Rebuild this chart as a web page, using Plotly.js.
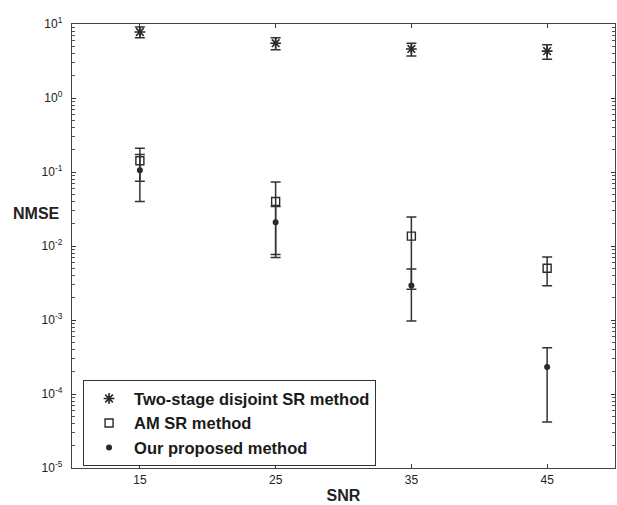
<!DOCTYPE html>
<html>
<head>
<meta charset="utf-8">
<script src="https://cdn.plot.ly/plotly-3.0.1.min.js"></script>
<style>
  html, body { margin: 0; padding: 0; background: #fff; }
  #chart { width: 617px; height: 505px; }
</style>
</head>
<body>
<div id="chart"></div>
<script>
// SNR values (x)
const snr = [15, 25, 35, 45];

// Two-stage disjoint SR method
const twoStage = [7.8, 5.5, 4.6, 4.3];
const twoStageErr = [1.3, 1.0, 0.9, 0.95];

// AM SR method
const amSR = [0.142, 0.040, 0.0136, 0.0050];
const amSRErr = [0.067, 0.033, 0.011, 0.0021];

// Our proposed method
const ours = [0.106, 0.0209, 0.00292, 0.000232];
const oursErr = [0.066, 0.0132, 0.00195, 0.00019];

// Tick labels
const xTickVals = [15, 25, 35, 45];
const yTickVals = [1e-5, 1e-4, 1e-3, 1e-2, 1e-1, 1, 10];
const yTickText = ['10<sup>-5</sup>', '10<sup>-4</sup>', '10<sup>-3</sup>', '10<sup>-2</sup>', '10<sup>-1</sup>', '10<sup>0</sup>', '10<sup>1</sup>'];

const seriesNames = ['Two-stage disjoint SR method', 'AM SR method', 'Our proposed method'];

const ink = '#2a2a2a';
const font = 'Liberation Sans, Arial, sans-serif';

function errTrace(name, y, err, symbol, size, lineW) {
  return {
    x: snr, y: y, name: name, type: 'scatter', mode: 'markers',
    marker: { symbol: symbol, size: size, color: ink, line: { color: ink, width: lineW } },
    error_y: { type: 'data', array: err, visible: true, color: '#333', thickness: 1.5, width: 5 }
  };
}

const data = [
  errTrace(seriesNames[0], twoStage, twoStageErr, 'asterisk-open', 9, 1.6),
  errTrace(seriesNames[1], amSR, amSRErr, 'square-open', 8, 1.4),
  errTrace(seriesNames[2], ours, oursErr, 'circle', 6, 0)
];

const layout = {
  width: 617, height: 505,
  margin: { l: 72, r: 2, t: 24, b: 37 },
  paper_bgcolor: '#fff', plot_bgcolor: '#fff',
  font: { family: font, color: '#222', size: 12 },
  showlegend: true,
  legend: {
    x: 0.02, y: 0.198, xanchor: 'left', yanchor: 'top',
    bgcolor: '#fff', bordercolor: '#333', borderwidth: 1.2,
    font: { family: font, size: 16.5, color: '#1a1a1a', weight: 'bold' },
    itemwidth: 40
  },
  xaxis: {
    range: [10, 50],
    tickvals: xTickVals, ticktext: xTickVals.map(String),
    ticks: 'inside', ticklen: 4, tickcolor: '#333',
    showline: true, linecolor: '#444', linewidth: 1.2, mirror: 'allticks',
    showgrid: false, zeroline: false,
    tickfont: { family: font, size: 12, color: '#222' },
    title: { text: 'SNR', font: { family: font, size: 16, color: '#222', weight: 'bold' }, standoff: 4 }
  },
  yaxis: {
    type: 'log', range: [-5, 1],
    tickvals: yTickVals, ticktext: yTickText,
    ticks: 'inside', ticklen: 4, tickcolor: '#333',
    minor: { ticks: 'inside', ticklen: 3, dtick: 'D1', tickcolor: '#555', showgrid: false },
    showline: true, linecolor: '#444', linewidth: 1.2, mirror: 'allticks',
    showgrid: false, zeroline: false,
    ticklabelstandoff: 6,
    tickfont: { family: font, size: 12, color: '#222' }
  },
  annotations: [{
    text: 'NMSE', xref: 'paper', yref: 'paper', x: -0.066, y: 0.574,
    xanchor: 'center', yanchor: 'middle', showarrow: false,
    font: { family: font, size: 16, color: '#222', weight: 'bold' }
  }]
};

Plotly.newPlot('chart', data, layout, { displayModeBar: false, staticPlot: true });
</script>
</body>
</html>
